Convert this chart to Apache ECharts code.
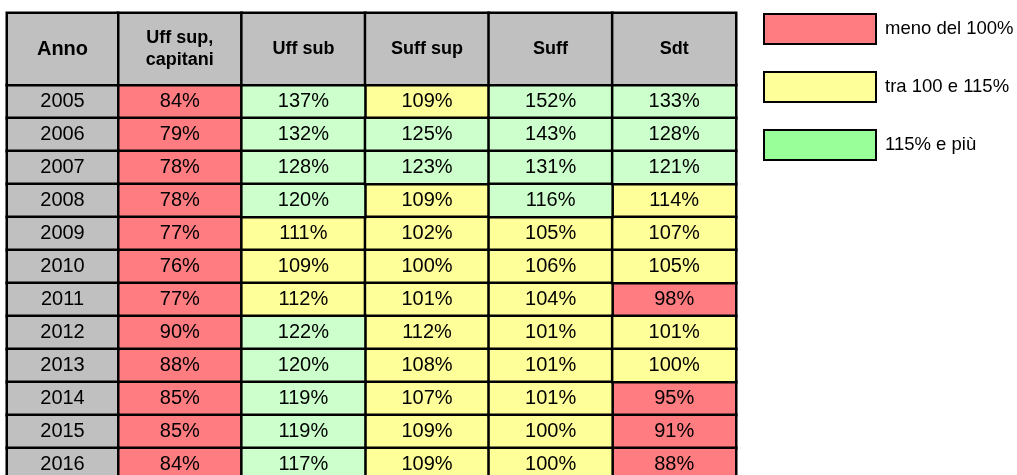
<!DOCTYPE html>
<html>
<head>
<meta charset="utf-8">
<script src="https://cdn.jsdelivr.net/npm/echarts@6/dist/echarts.min.js"></script>
<style>
  html, body { margin: 0; padding: 0; background: #fff; }
  #main { width: 1017px; height: 475px; }
</style>
</head>
<body>
<div id="main"></div>
<script>
// dati della tabella
var years = ['2005', '2006', '2007', '2008', '2009', '2010', '2011', '2012', '2013', '2014', '2015', '2016'];
var columns = ['Uff sup,\ncapitani', 'Uff sub', 'Suff sup', 'Suff', 'Sdt'];
var uffSupCapitani = [84, 79, 78, 78, 77, 76, 77, 90, 88, 85, 85, 84];
var uffSub = [137, 132, 128, 120, 111, 109, 112, 122, 120, 119, 119, 117];
var suffSup = [109, 125, 123, 109, 102, 100, 101, 112, 108, 107, 109, 109];
var suff = [152, 143, 131, 116, 105, 106, 104, 101, 101, 101, 100, 100];
var sdt = [133, 128, 121, 114, 107, 105, 98, 101, 100, 95, 91, 88];
var legendNames = ['meno del 100%', 'tra 100 e 115%', '115% e più'];

var valori = [uffSupCapitani, uffSub, suffSup, suff, sdt];
var font = 'Arial, "Liberation Sans", sans-serif';

// celle per fascia
function fascia(min, max) {
    var out = [];
    valori.forEach(function (col, x) {
        col.forEach(function (v, y) {
            if (v >= min && v < max) out.push([x, y, v]);
        });
    });
    return out;
}

var cellBorder = {borderColor: '#000', borderWidth: 2.5};
var cellLabel = {
    show: true,
    fontFamily: font,
    fontSize: 20,
    color: '#000',
    formatter: function (p) { return p.value[2] + '%'; }
};

function bodySeries(name, color, data) {
    return {
        name: name,
        type: 'heatmap',
        xAxisIndex: 0,
        yAxisIndex: 0,
        data: data,
        itemStyle: Object.assign({color: color}, cellBorder),
        label: cellLabel,
        emphasis: {disabled: true}
    };
}

var hiddenAxis = {show: false};

var myChart = echarts.init(document.getElementById('main'));
var option = {
    animation: false,
    backgroundColor: '#fff',
    grid: [
        {left: 118, width: 618, top: 85, height: 396, outerBoundsMode: 'none'},   // valori
        {left: 7, width: 111, top: 85, height: 396, outerBoundsMode: 'none'},     // colonna anno
        {left: 118, width: 618, top: 13, height: 72, outerBoundsMode: 'none'},    // intestazione
        {left: 7, width: 111, top: 13, height: 72, outerBoundsMode: 'none'}       // intestazione anno
    ],
    xAxis: [
        Object.assign({type: 'category', gridIndex: 0, data: columns}, hiddenAxis),
        Object.assign({type: 'category', gridIndex: 1, data: ['Anno']}, hiddenAxis),
        Object.assign({type: 'category', gridIndex: 2, data: columns}, hiddenAxis),
        Object.assign({type: 'category', gridIndex: 3, data: ['Anno']}, hiddenAxis)
    ],
    yAxis: [
        Object.assign({type: 'category', gridIndex: 0, data: years, inverse: true}, hiddenAxis),
        Object.assign({type: 'category', gridIndex: 1, data: years, inverse: true}, hiddenAxis),
        Object.assign({type: 'category', gridIndex: 2, data: ['h']}, hiddenAxis),
        Object.assign({type: 'category', gridIndex: 3, data: ['h']}, hiddenAxis)
    ],
    legend: {
        orient: 'vertical',
        left: 763,
        top: 13,
        padding: 0,
        icon: 'rect',
        itemWidth: 112,
        itemHeight: 30,
        itemGap: 26,
        selectedMode: false,
        textStyle: {fontFamily: font, fontSize: 18.5, color: '#000', padding: [0, 0, 0, 4]},
        itemStyle: {borderColor: '#000', borderWidth: 2},
        data: [
            {name: legendNames[0], itemStyle: {color: '#FF7C80'}},
            {name: legendNames[1], itemStyle: {color: '#FFFF99'}},
            {name: legendNames[2], itemStyle: {color: '#99FF99'}}
        ]
    },
    series: [
        bodySeries(legendNames[0], '#FF7C80', fascia(-Infinity, 100)),
        bodySeries(legendNames[1], '#FFFF99', fascia(100, 115)),
        bodySeries(legendNames[2], '#CCFFCC', fascia(115, Infinity)),
        {
            type: 'heatmap',
            xAxisIndex: 1,
            yAxisIndex: 1,
            data: years.map(function (y, i) { return [0, i, y]; }),
            itemStyle: Object.assign({color: '#C0C0C0'}, cellBorder),
            label: {show: true, fontFamily: font, fontSize: 20, color: '#000',
                formatter: function (p) { return p.value[2]; }},
            emphasis: {disabled: true}
        },
        {
            type: 'heatmap',
            xAxisIndex: 2,
            yAxisIndex: 2,
            data: columns.map(function (c, i) { return [i, 0, 0]; }),
            itemStyle: Object.assign({color: '#C0C0C0'}, cellBorder),
            label: {show: true, fontFamily: font, fontSize: 18, fontWeight: 'bold', color: '#000',
                lineHeight: 22,
                formatter: function (p) { return columns[p.value[0]]; }},
            emphasis: {disabled: true}
        },
        {
            type: 'heatmap',
            xAxisIndex: 3,
            yAxisIndex: 3,
            data: [[0, 0, 0]],
            itemStyle: Object.assign({color: '#C0C0C0'}, cellBorder),
            label: {show: true, fontFamily: font, fontSize: 20, fontWeight: 'bold', color: '#000',
                formatter: 'Anno'},
            emphasis: {disabled: true}
        }
    ]
};
myChart.setOption(option);
</script>
</body>
</html>
